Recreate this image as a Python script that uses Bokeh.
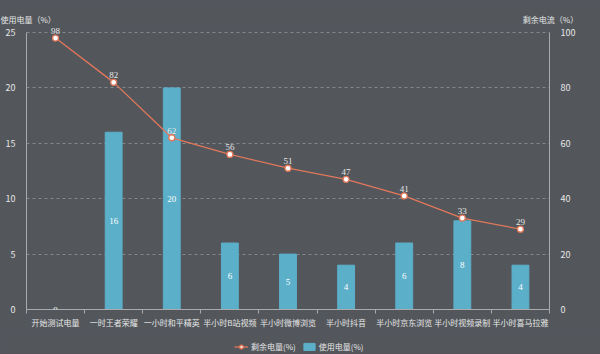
import numpy as np
from bokeh.plotting import figure
from bokeh.layouts import column
from bokeh.models import (Range1d, LinearAxis, FixedTicker, ColumnDataSource, LabelSet,
                          Label, Legend, LegendItem)
from bokeh.embed import file_html
from bokeh.resources import INLINE

categories = ["开始测试电量", "一时王者荣耀", "一小时和平精英", "半小时B站视频", "半小时微博浏览",
              "半小时抖音", "半小时京东浏览", "半小时视频录制", "半小时喜马拉雅"]
used = [0, 16, 20, 6, 5, 4, 6, 8, 4]
remaining = [98, 82, 62, 56, 51, 47, 41, 33, 29]
left_ticks = [0, 5, 10, 15, 20, 25]
right_ticks = [0, 20, 40, 60, 80, 100]
left_title = "使用电量（%）"
right_title = "剩余电流（%）"
legend_line = "剩余电量(%)"
legend_bar = "使用电量(%)"

BG = "#53575c"
BAR = "#5bafc9"
LINE = "#e2775a"
TXT = "#e6e6e6"
AXIS = "#a8aaac"
GRID = "#85888b"
FONT = "Noto Sans CJK SC"

W = 600
TOP_H = 25        # strip holding the axis titles
MAIN_H = 306      # main plot
BOT_H = 354 - TOP_H - MAIN_H   # strip holding the legend
BORDER_B = 22
FRAME_H = MAIN_H - BORDER_B
HEAD = 7          # space inside the frame above the top gridline

n = len(categories)
xs = list(range(n))
src = ColumnDataSource(dict(x=xs, used=used, half=[u / 2 for u in used], rem=remaining,
                            used_s=[str(u) for u in used], rem_s=[str(r) for r in remaining]))

lmax, rmax = left_ticks[-1], right_ticks[-1]
scale = FRAME_H / (FRAME_H - HEAD)


def strip(h):
    f = figure(width=W, height=h, output_backend="svg", toolbar_location=None,
               x_range=Range1d(0, 1), y_range=Range1d(0, 1),
               x_axis_type=None, y_axis_type=None,
               background_fill_color=BG, border_fill_color=BG,
               min_border=0, min_border_left=0, min_border_right=0,
               min_border_top=0, min_border_bottom=0, frame_align=False)
    f.outline_line_color = None
    f.grid.visible = False
    return f


# ---------- top strip: axis titles ----------
top = strip(TOP_H)
top.add_layout(Label(x=0, y=6, x_units="screen", y_units="screen", text=left_title,
                     text_align="left", text_baseline="middle", text_color=TXT,
                     text_font_size="8px", text_font=FONT))
top.add_layout(Label(x=550, y=6, x_units="screen", y_units="screen", text=right_title,
                     text_align="center", text_baseline="middle", text_color=TXT,
                     text_font_size="8px", text_font=FONT))

# ---------- main plot ----------
p = figure(width=W, height=MAIN_H, output_backend="svg", toolbar_location=None,
           x_range=Range1d(-0.5, n - 0.5), y_range=Range1d(0, lmax * scale),
           background_fill_color=BG, border_fill_color=BG,
           min_border_left=26, min_border_right=51, min_border_top=0,
           min_border_bottom=BORDER_B, frame_align=False)
p.outline_line_color = None
p.extra_y_ranges = {"r": Range1d(0, rmax * scale)}

p.xaxis.ticker = FixedTicker(ticks=xs, minor_ticks=[i - 0.5 for i in range(n + 1)])
p.xaxis.major_label_overrides = {i: c for i, c in enumerate(categories)}
p.xaxis.major_tick_line_color = None
p.xaxis.major_tick_out = 0
p.xaxis.minor_tick_line_color = AXIS
p.xaxis.minor_tick_out = 4
p.xaxis.minor_tick_in = 0
p.xaxis.axis_line_color = AXIS
p.xaxis.major_label_text_color = TXT
p.xaxis.major_label_text_font = FONT
p.xaxis.major_label_text_font_size = "8px"
p.xaxis.major_label_standoff = 3

p.yaxis.ticker = FixedTicker(ticks=left_ticks)
p.yaxis.bounds = (0, lmax)
p.yaxis.major_tick_line_color = None
p.yaxis.minor_tick_line_color = None
p.yaxis.axis_line_color = AXIS
p.yaxis.major_label_text_color = TXT
p.yaxis.major_label_text_font_size = "9px"
p.yaxis.major_label_text_font = FONT
p.yaxis.major_label_standoff = 5

ra = LinearAxis(y_range_name="r", ticker=FixedTicker(ticks=right_ticks), bounds=(0, rmax))
ra.major_tick_line_color = None
ra.minor_tick_line_color = None
ra.axis_line_color = AXIS
ra.major_label_text_color = TXT
ra.major_label_text_font_size = "9px"
ra.major_label_text_font = FONT
ra.major_label_standoff = 5
p.add_layout(ra, "right")

p.xgrid.grid_line_color = None
p.ygrid.ticker = FixedTicker(ticks=left_ticks[1:])
p.ygrid.grid_line_color = GRID
p.ygrid.grid_line_dash = "3 3"

p.vbar(x="x", top="used", width=0.29, source=src, fill_color=BAR, line_color=BAR)
p.add_layout(LabelSet(x="x", y="half", text="used_s", source=src, text_align="center",
                      text_baseline="middle", text_color="white", text_font_size="9px",
                      text_font=FONT))

p.line(x="x", y="rem", source=src, y_range_name="r", line_color=LINE, line_width=1.3)
p.scatter(x="x", y="rem", source=src, y_range_name="r", size=6, fill_color="white",
          line_color=LINE, line_width=1.3)
p.add_layout(LabelSet(x="x", y="rem", text="rem_s", source=src, y_range_name="r",
                      text_align="center", text_baseline="bottom", y_offset=4,
                      text_color=TXT, text_font_size="9px", text_font=FONT))

# ---------- bottom strip: legend (proxy glyphs hold no drawable point) ----------
bot = strip(BOT_H)
nan = [np.nan]
lg_line = bot.line(x=nan, y=nan, line_color=LINE, line_width=1.3)
lg_pt = bot.scatter(x=nan, y=nan, fill_color="white", line_color=LINE, line_width=1.5)
lg_bar = bot.vbar(x=nan, top=nan, width=1, fill_color=BAR, line_color=BAR)
legend = Legend(items=[LegendItem(label=legend_line, renderers=[lg_line, lg_pt]),
                       LegendItem(label=legend_bar, renderers=[lg_bar])],
                orientation="horizontal", location=(234, 2),
                background_fill_alpha=0, border_line_color=None,
                label_text_color=TXT, label_text_font=FONT, label_text_font_size="8px",
                label_height=8, glyph_width=14, glyph_height=9, spacing=6, padding=2,
                margin=0, label_standoff=3)
bot.add_layout(legend)

layout = column(top, p, bot, spacing=0, styles={"background-color": BG})
html = file_html(layout, INLINE)
html = html.replace("<body", '<body style="margin:0;background-color:%s"' % BG, 1)
open("out.html", "w").write(html)
